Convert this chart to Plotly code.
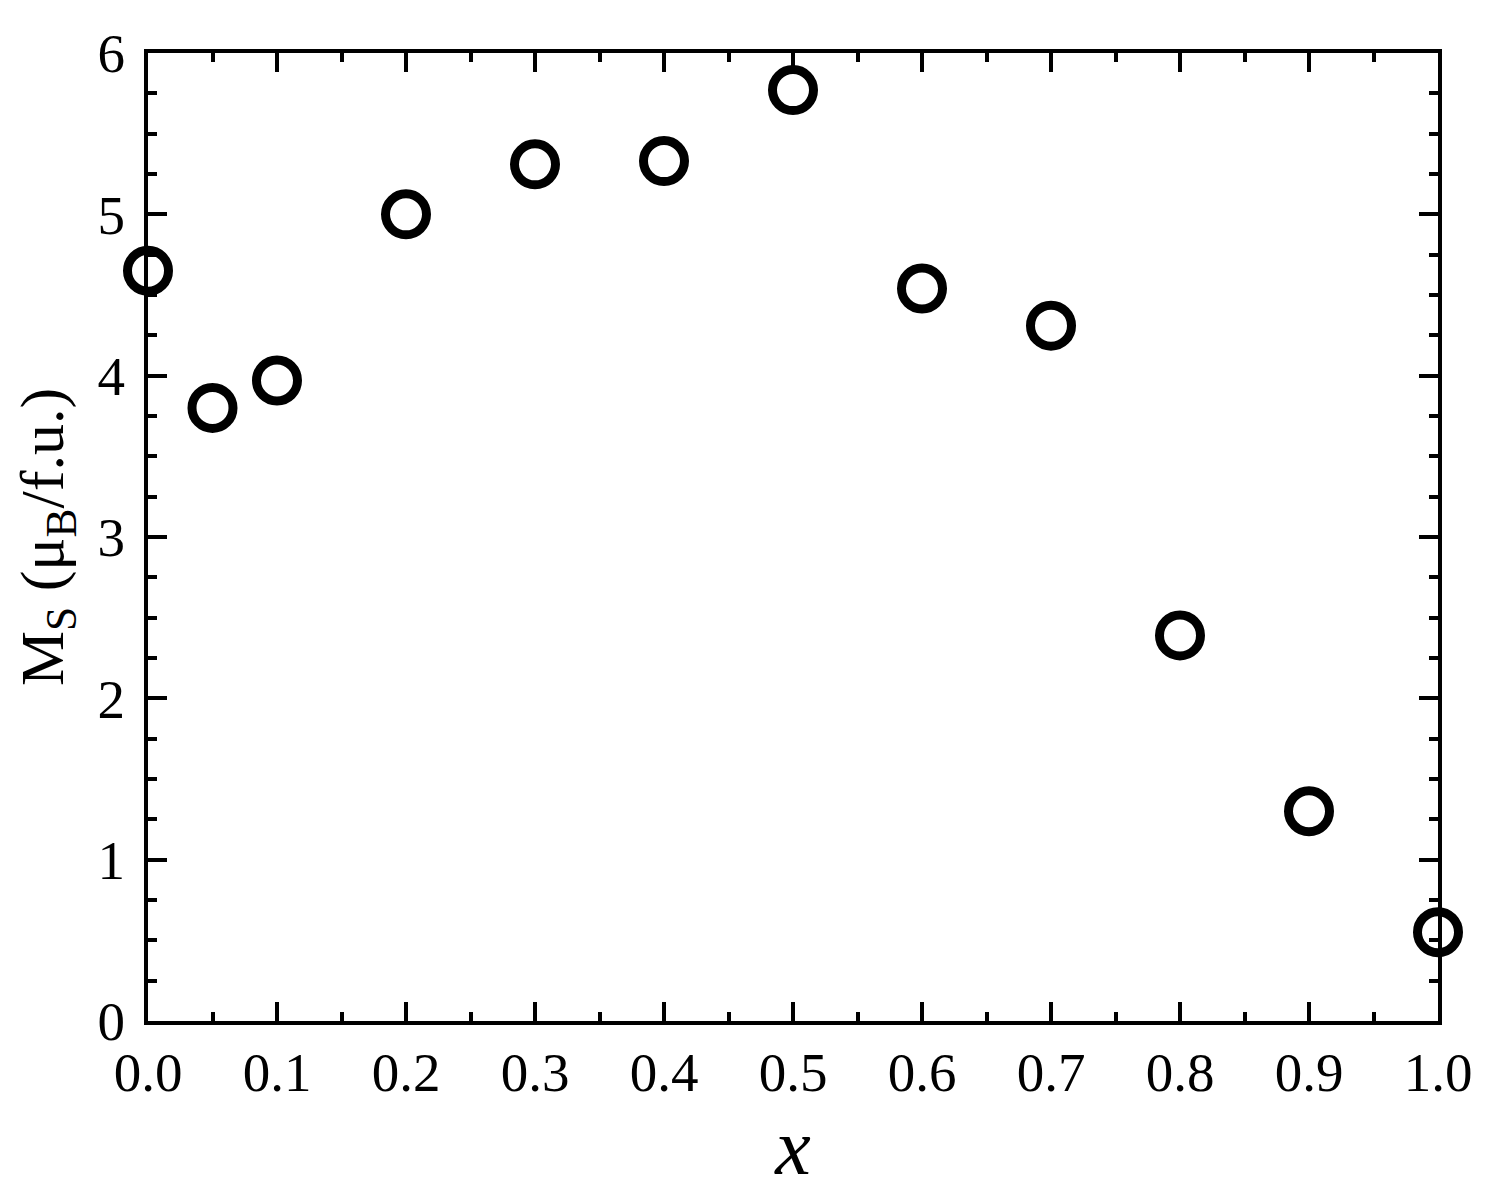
import plotly.graph_objects as go

FONT = "Liberation Serif"
BLACK = "#000000"

x_vals = [0.0, 0.05, 0.1, 0.2, 0.3, 0.4, 0.5, 0.6, 0.7, 0.8, 0.9, 1.0]
ms_vals = [4.65, 3.80, 3.97, 5.00, 5.31, 5.33, 5.77, 4.54, 4.31, 2.39, 1.30, 0.55]

x_ticks = [0.0, 0.1, 0.2, 0.3, 0.4, 0.5, 0.6, 0.7, 0.8, 0.9, 1.0]
x_ticklabels = [f"{v:.1f}" for v in x_ticks]
y_ticks = [0, 1, 2, 3, 4, 5, 6]


def _axis(**kwargs):
    return dict(
        showline=True,
        linecolor=BLACK,
        linewidth=4,
        mirror="allticks",
        ticks="inside",
        ticklen=19,
        tickwidth=4,
        tickcolor=BLACK,
        showgrid=False,
        zeroline=False,
        tickfont=dict(family=FONT, size=55, color=BLACK),
        **kwargs,
    )


fig = go.Figure(go.Scatter(
    x=x_vals, y=ms_vals,
    mode="markers",
    marker=dict(symbol="circle-open", size=41, color=BLACK,
                line=dict(width=9, color=BLACK)),
    cliponaxis=False,
    showlegend=False,
))

fig.update_layout(
    width=1497, height=1203,
    paper_bgcolor="white",
    plot_bgcolor="white",
    margin=dict(l=140, r=67, t=45, b=190),
    xaxis=_axis(
        range=[0, 1],
        tickvals=x_ticks,
        ticktext=x_ticklabels,
        minor=dict(dtick=0.05, tick0=0, ticks="inside", ticklen=9,
                   tickwidth=4, tickcolor=BLACK, showgrid=False),
        title=dict(text="<i>x</i>", font=dict(family=FONT, size=80, color=BLACK),
                   standoff=12),
    ),
    yaxis=_axis(
        range=[0, 6],
        tickvals=y_ticks,
        ticklabelstandoff=8,
        minor=dict(dtick=0.25, tick0=0, ticks="inside", ticklen=9,
                   tickwidth=4, tickcolor=BLACK, showgrid=False),
        title=dict(text="M<sub>S</sub> (μ<sub>B</sub>/f.u.)",
                   font=dict(family=FONT, size=62, color=BLACK), standoff=18),
    ),
)

fig.write_html("out.html")
